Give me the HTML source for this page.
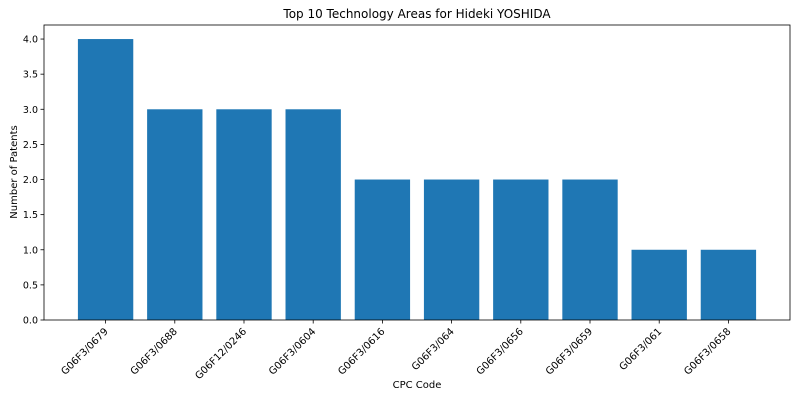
<!DOCTYPE html>
<html><head><meta charset="utf-8"><style>
body{margin:0;background:#fff;font-family:"Liberation Sans","DejaVu Sans",sans-serif;}
</style></head><body>
<svg width="800" height="400" xmlns="http://www.w3.org/2000/svg" font-family="DejaVu Sans, Liberation Sans, sans-serif">
<rect width="800" height="400" fill="#fff"/>
<text x="417" y="18" text-anchor="middle" font-size="12">Top 10 Technology Areas for Hideki YOSHIDA</text>
<g id="plot"></g>
<text x="417" y="388" text-anchor="middle" font-size="10">CPC Code</text>
<text transform="translate(17,172) rotate(-90)" text-anchor="middle" font-size="10">Number of Patents</text>
</svg>
<script>
const categories=["G06F3/0679","G06F3/0688","G06F12/0246","G06F3/0604","G06F3/0616","G06F3/064","G06F3/0656","G06F3/0659","G06F3/061","G06F3/0658"];
const values=[4,3,3,3,2,2,2,2,1,1];
const yTicks=[0,0.5,1,1.5,2,2.5,3,3.5,4];
const L=44,R=790,T=25,B=320;
const ymax=Math.max(...values)*1.05;
const n=categories.length;
const xmin=-0.4-0.049*(n-0.2)/0.5*0.5, xspan=(n-0.2)*1.1;
function x(i){return L+(i-(-0.4-0.05*(n-0.2)))/((n-0.2)*1.1)*(R-L);}
function y(v){return B-v/ymax*(B-T);}
const g=document.getElementById('plot');
const NS="http://www.w3.org/2000/svg";
const bw=0.8/((n-0.2)*1.1)*(R-L);
function mk(t,a){const e=document.createElementNS(NS,t);for(const k in a)e.setAttribute(k,a[k]);g.appendChild(e);return e;}
values.forEach((v,i)=>{
 const r=mk('rect',{x:x(i)-bw/2,y:y(v),width:bw,height:B-y(v),fill:'#1f77b4'});
 
 
 const tk=mk('line',{x1:x(i),x2:x(i),y1:B,y2:B+3.5,stroke:'#000','stroke-width':0.8});
 
 
 const t=mk('text',{transform:`translate(${x(i)+3},${B+12}) rotate(-45)`,'text-anchor':'end','font-size':10});
 t.textContent=categories[i];
 
 
});
yTicks.forEach(v=>{
 const tk=mk('line',{x1:L-3.5,x2:L,y1:y(v),y2:y(v),stroke:'#000','stroke-width':0.8});
 
 
 const t=mk('text',{x:L-6,y:y(v)+3.5,'text-anchor':'end','font-size':9.5});
 t.textContent=v.toFixed(1);
 
 
});
const f=mk('rect',{x:L,y:T,width:R-L,height:B-T,fill:'none',stroke:'#000','stroke-width':0.8});


</script>
</body></html>
